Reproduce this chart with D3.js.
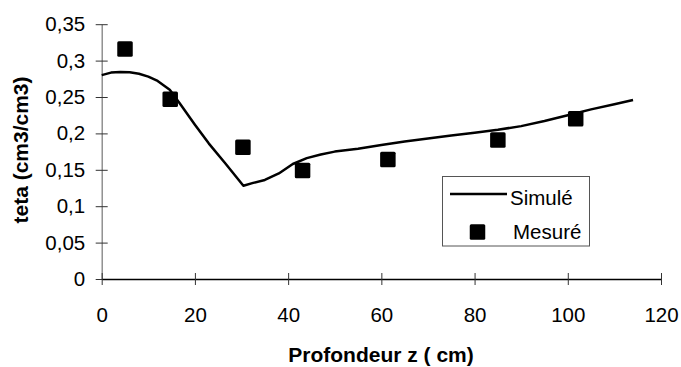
<!DOCTYPE html>
<html lang="fr">
<head>
  <meta charset="UTF-8" />
  <title>teta vs profondeur</title>
  <script src="https://cdn.jsdelivr.net/npm/d3@7/dist/d3.min.js"></script>
  <style>
    html, body { margin: 0; padding: 0; background: #fff; }
    #viz { width: 681px; height: 367px; }
    text { font-family: "Liberation Sans", Arial, sans-serif; fill: #000; }
  </style>
</head>
<body>
  <div id="viz"></div>

  <script>
  // Courbe simulée (profondeur en cm, teta)
  const simZ    = [0, 2, 4, 6, 8, 10, 12, 14.6, 17, 20, 23, 26.5, 30.4, 32.5, 35, 38, 41, 44, 47, 50, 55, 60, 65, 70, 75, 80, 85, 90, 95, 100, 105, 110, 114];
  const simTeta = [0.280, 0.2835, 0.2845, 0.284, 0.282, 0.278, 0.272, 0.260, 0.239, 0.212, 0.186, 0.159, 0.128, 0.132, 0.136, 0.145, 0.158, 0.166, 0.171, 0.175, 0.179, 0.184, 0.189, 0.193, 0.197, 0.201, 0.205, 0.210, 0.217, 0.225, 0.233, 0.240, 0.246];

  // Points mesurés
  const mesZ    = [5, 14.7, 30.3, 43.1, 61.4, 85, 101.7];
  const mesTeta = [0.316, 0.247, 0.181, 0.149, 0.164, 0.191, 0.220];

  // Graduations
  const xTicks = [0, 20, 40, 60, 80, 100, 120];
  const yTicks = [0, 0.05, 0.1, 0.15, 0.2, 0.25, 0.3, 0.35];

  const legendLabels = ['Simulé', 'Mesuré'];

  function drawViz() {
    const W = 681, H = 367;
    const svg = d3.select('#viz').append('svg')
      .attr('width', W).attr('height', H);

    const x = d3.scaleLinear().domain([0, 120]).range([101.7, 661]);
    const y = d3.scaleLinear().domain([0, 0.35]).range([279, 24.2]);

    const fr = d3.formatLocale({ decimal: ',', thousands: ' ', grouping: [3], currency: ['', ' €'] });
    const fmtY = d => d === 0 ? '0' : fr.format(',.2~f')(d);

    // axe Y
    const gy = svg.append('g')
      .attr('transform', `translate(${x(0)},0)`)
      .call(d3.axisLeft(y).tickValues(yTicks).tickFormat(fmtY)
        .tickSizeInner(6).tickSizeOuter(0).tickPadding(10.5));
    gy.select('.domain').attr('stroke', '#808080').attr('stroke-width', 1.3);
    gy.selectAll('.tick line').attr('x1', 6).attr('stroke', '#333');
    gy.selectAll('.tick text').style('font-size', '20.5px');

    // axe X
    const gx = svg.append('g')
      .attr('transform', `translate(0,${y(0)})`)
      .call(d3.axisBottom(x).tickValues(xTicks).tickFormat(d3.format('d'))
        .tickSizeInner(6).tickSizeOuter(0).tickPadding(22));
    gx.select('.domain').attr('stroke', '#000').attr('stroke-width', 1.3);
    gx.selectAll('.tick line').attr('y1', -6).attr('stroke', '#333');
    gx.selectAll('.tick text').style('font-size', '20.5px');

    // titres
    svg.append('text')
      .attr('x', 381).attr('y', 362)
      .attr('text-anchor', 'middle')
      .style('font-size', '21px').style('font-weight', 'bold')
      .text('Profondeur z ( cm)');
    svg.append('text')
      .attr('transform', 'translate(28,150) rotate(-90)')
      .attr('text-anchor', 'middle')
      .style('font-size', '21px').style('font-weight', 'bold')
      .text('teta (cm3/cm3)');

    // courbe simulée
    const sim = simZ.map((z, i) => ({ z, t: simTeta[i] }));
    const line = d3.line()
      .x(d => x(d.z))
      .y(d => y(d.t));
    svg.append('path')
      .datum(sim)
      .attr('fill', 'none')
      .attr('stroke', '#000')
      .attr('stroke-width', 2.5)
      .attr('stroke-linejoin', 'round')
      .attr('d', line);

    // points mesurés
    const mes = mesZ.map((z, i) => ({ z, t: mesTeta[i] }));
    const s = 15.5;
    svg.selectAll('rect.mes')
      .data(mes)
      .enter()
      .append('rect')
        .attr('class', 'mes')
        .attr('x', d => x(d.z) - s / 2)
        .attr('y', d => y(d.t) - s / 2)
        .attr('width', s).attr('height', s)
        .attr('rx', 1.5)
        .attr('fill', '#000');

    // légende
    const lg = svg.append('g');
    lg.append('rect')
      .attr('x', 442.5).attr('y', 176.5)
      .attr('width', 147).attr('height', 69.5)
      .attr('fill', '#fff').attr('stroke', '#555').attr('stroke-width', 1);
    lg.append('line')
      .attr('x1', 450).attr('x2', 507)
      .attr('y1', 194).attr('y2', 194)
      .attr('stroke', '#000').attr('stroke-width', 2.5);
    lg.append('text')
      .attr('x', 510).attr('y', 205)
      .style('font-size', '20.5px')
      .text(legendLabels[0]);
    lg.append('rect')
      .attr('x', 477.5 - s / 2).attr('y', 232 - s / 2)
      .attr('width', s).attr('height', s)
      .attr('rx', 1.5)
      .attr('fill', '#000');
    lg.append('text')
      .attr('x', 513).attr('y', 238.5)
      .style('font-size', '20.5px')
      .text(legendLabels[1]);
  }

  document.addEventListener('DOMContentLoaded', drawViz);
  </script>
</body>
</html>
